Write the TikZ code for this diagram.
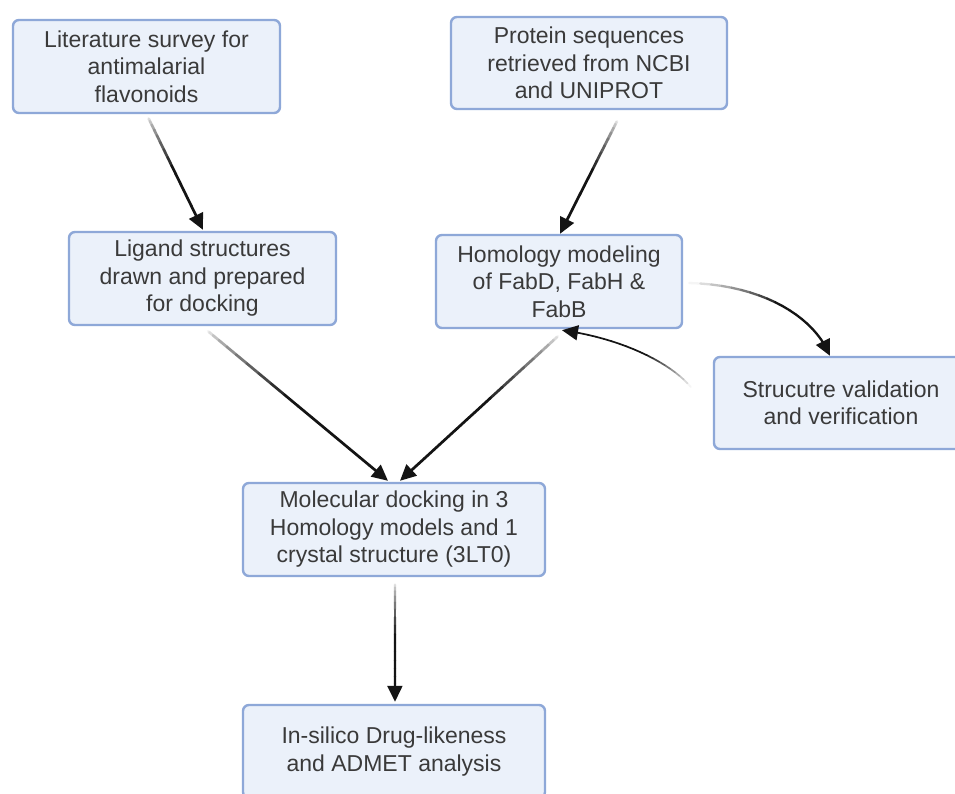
\documentclass[tikz,border=0pt]{standalone}
\usepackage{fontspec}
\setmainfont{Liberation Sans}
\usetikzlibrary{arrows.meta,calc}
\definecolor{boxfill}{HTML}{EBF1FA}
\definecolor{boxline}{HTML}{8EA8D8}
\definecolor{txt}{HTML}{3A3A3A}
\tikzset{
  flowbox/.style={draw=boxline, fill=boxfill, line width=2.4pt, rounded corners=6pt,
    minimum height=93pt, align=center, text=txt, inner sep=0pt,
    font=\fontsize{23}{27.5}\selectfont},
  tiphead/.style={-{Triangle[length=16pt,width=15pt]}},
}
% cubic bezier drawn in segments, fading from light to dark
\newcommand\fadecurve[5]{%
  \foreach \ii in {0,...,17}{%
    \pgfmathsetmacro\tA{\ii/20}%
    \pgfmathsetmacro\tB{(\ii+1)/20}%
    \pgfmathsetmacro\shd{min(92,4+88*\tA/0.45)}%
    \pgfmathsetmacro\cA{(1-\tA)^3}\pgfmathsetmacro\cB{3*(1-\tA)^2*\tA}%
    \pgfmathsetmacro\cC{3*(1-\tA)*\tA^2}\pgfmathsetmacro\cD{\tA^3}%
    \pgfmathsetmacro\dA{(1-\tB)^3}\pgfmathsetmacro\dB{3*(1-\tB)^2*\tB}%
    \pgfmathsetmacro\dC{3*(1-\tB)*\tB^2}\pgfmathsetmacro\dD{\tB^3}%
    \draw[line width=#5, line cap=round, color=black!\shd]
      ($\cA*(#1)+\cB*(#2)+\cC*(#3)+\cD*(#4)$) --
      ($\dA*(#1)+\dB*(#2)+\dC*(#3)+\dD*(#4)$);
  }%
  \pgfmathsetmacro\dA{0.1^3}\pgfmathsetmacro\dB{3*0.1^2*0.9}%
  \pgfmathsetmacro\dC{3*0.1*0.9^2}\pgfmathsetmacro\dD{0.9^3}%
  \draw[tiphead, line width=#5, color=black!92]
    ($\dA*(#1)+\dB*(#2)+\dC*(#3)+\dD*(#4)$) -- (#4);
}
\begin{document}
\begin{tikzpicture}[x=1pt,y=-1pt]
\useasboundingbox (0,0) rectangle (955,793);
\clip (0,0) rectangle (955,793);
\fill[white] (0,0) rectangle (955,793);

\node[flowbox, minimum width=267pt] (n1) at (146.5,66.5) {Literature survey for\\antimalarial\\flavonoids};
\node[flowbox, minimum width=267pt] (n2) at (202.5,278.5) {Ligand structures\\drawn and prepared\\for docking};
\node[flowbox, minimum width=276pt, minimum height=92pt] (n3) at (589,63) {Protein sequences\\retrieved from NCBI\\and UNIPROT};
\node[flowbox, minimum width=246pt] (n4) at (559,281.5) {Homology modeling\\of FabD, FabH \&\\FabB};
\node[flowbox, minimum width=254pt, minimum height=92pt] (n5) at (841,403) {Strucutre validation\\and verification};
\node[flowbox, minimum width=302pt] (n6) at (394,529.5) {Molecular docking in 3\\Homology models and 1\\crystal structure (3LT0)};
\node[flowbox, minimum width=302pt] (n7) at (394,751.5) {In-silico Drug-likeness\\and ADMET analysis};

% connector end points
\coordinate (a1s) at ($(n1.south)+(2,4)$);
\coordinate (a1e) at ($(n2.north)+(0.5,-1)$);
\coordinate (a2s) at ($(n3.south)+(28,11)$);
\coordinate (a2e) at ($(n4.north)+(1,0)$);
\coordinate (a3s) at ($(n2.south)+(5.5,5)$);
\coordinate (a3e) at ($(n6.north)+(-6,-1)$);
\coordinate (a4s) at ($(n4.south)+(-1,7)$);
\coordinate (a4e) at ($(n6.north)+(6,-1)$);
\coordinate (a5s) at ($(n4.east)+(6,1.5)$);
\coordinate (a5e) at ($(n5.north)+(-11,0)$);
\coordinate (a5p) at (765,285);
\coordinate (a5q) at (815,318);
\coordinate (a6s) at ($(n5.west)+(-22,-16)$);
\coordinate (a6e) at ($(n4.south)+(3,1)$);
\coordinate (a6p) at (670,362);
\coordinate (a6q) at (620,338);
\coordinate (a7s) at ($(n6.south)+(1,7)$);
\coordinate (a7e) at ($(n7.north)+(1,-2)$);

\fadecurve{a1s}{a1s}{a1e}{a1e}{2.7pt}
\fadecurve{a2s}{a2s}{a2e}{a2e}{2.7pt}
\fadecurve{a3s}{a3s}{a3e}{a3e}{2.7pt}
\fadecurve{a4s}{a4s}{a4e}{a4e}{2.7pt}
\fadecurve{a5s}{a5p}{a5q}{a5e}{2.3pt}
\fadecurve{a6s}{a6p}{a6q}{a6e}{1.7pt}
\fadecurve{a7s}{a7s}{a7e}{a7e}{2.3pt}
\end{tikzpicture}
\end{document}
